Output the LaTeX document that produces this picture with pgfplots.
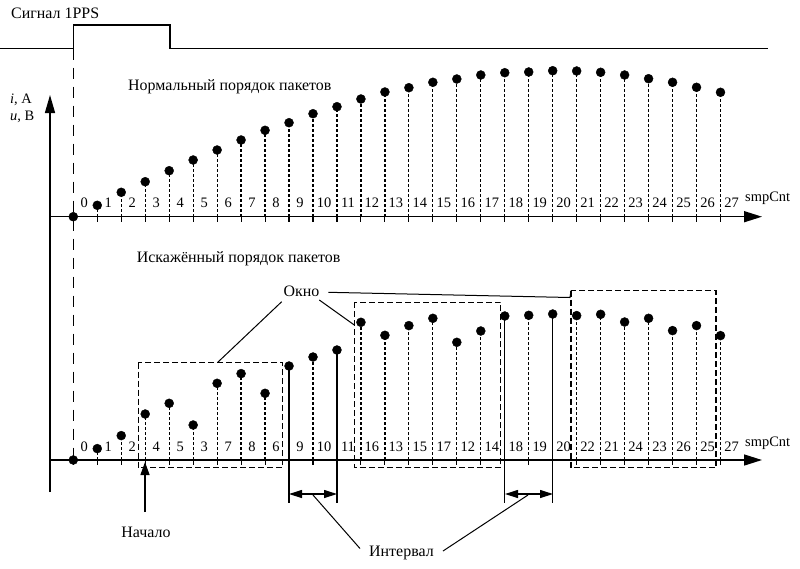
\documentclass[border=0pt]{standalone}
\usepackage{fontspec}
\setmainfont{Liberation Serif}
\usepackage{pgfplots}
\usepackage{pgfplotstable}
\pgfplotsset{compat=1.18}
\usetikzlibrary{arrows.meta}

\newcommand{\tx}{\fontsize{16}{18}\selectfont}
\newcommand{\nm}{\fontsize{14.5}{16}\selectfont}

% normal order: sample k, height above the axis
\pgfplotstableread{
k h
0 0
1 11.4
2 24.4
3 35
4 46
5 56.7
6 66.7
7 76.7
8 86.4
9 94
10 103
11 110
12 117.7
13 124.7
14 129
15 134.4
16 137.7
17 141.7
18 144
19 144.7
20 146
21 145.7
22 144.4
23 141.7
24 138
25 134.4
26 129.4
27 124.4
}\normalorder

% distorted order: position p, packet s, height
\pgfplotstableread{
p s h
0 0 0
1 1 11.4
2 2 24.4
3 4 46
4 5 56.7
5 3 35
6 7 76.7
7 8 86.4
8 6 66.7
9 9 94
10 10 103
11 11 110
12 16 137.7
13 13 124.7
14 15 134.4
15 17 141.7
16 12 117.7
17 14 129
18 18 144
19 19 144.7
20 20 146
21 22 144.4
22 21 145.7
23 24 138
24 23 141.7
25 26 129.4
26 25 134.4
27 27 124.4
}\shuffled

% interval borders (solid stems going below the axis)
\pgfplotstableread{
p h
9 94
11 110
18 144
20 146
}\borders

\begin{document}
\begin{tikzpicture}
\begin{axis}[
  scale only axis, width=800bp, height=568bp,
  xmin=0, xmax=800, ymin=0, ymax=568, y dir=reverse,
  hide axis, clip=false]

% 1PPS signal
\addplot[black, line width=1.4bp] coordinates {(0,48.7) (73.3,48.7) (73.3,25) (170,25) (170,48.7) (768,48.7)};
\addplot[black, line width=1.4bp, dash pattern=on 11bp off 8bp] coordinates {(73.3,48.7) (73.3,460)};

% axes
\addplot[black, line width=1.5bp, -{Triangle[length=18bp,width=10bp]}] coordinates {(50,492) (50,95)};
\addplot[black, line width=1.5bp, -{Triangle[length=18bp,width=11bp]}] coordinates {(50,216.7) (762,216.7)};
\addplot[black, line width=1.5bp, -{Triangle[length=18bp,width=11bp]}] coordinates {(50,460) (762,460)};

% top: normal order
\addplot[black, line width=1.1bp, quiver={u=0, v=5}] table[x expr=73.3+23.97*\thisrow{k}, y expr=216.7]{\normalorder};
\addplot[black, line width=1.2bp, dash pattern=on 3bp off 2bp, quiver={u=0, v=-\thisrow{h}}] table[x expr=73.3+23.97*\thisrow{k}, y expr=216.7]{\normalorder};
\addplot[black, only marks, mark=*, mark size=4.5bp] table[x expr=73.3+23.97*\thisrow{k}, y expr=216.7-\thisrow{h}]{\normalorder};
\addplot[only marks, mark=none, point meta=explicit symbolic, nodes near coords,
  nodes near coords style={anchor=base, font=\nm, text=black}]
  table[x expr=84.3+23.97*\thisrow{k}, y expr=207.5, meta=k]{\normalorder};

% bottom: distorted order
\addplot[black, line width=1.1bp, quiver={u=0, v=5}] table[x expr=73.3+23.97*\thisrow{p}, y expr=460]{\shuffled};
\addplot[black, line width=1.2bp, dash pattern=on 3bp off 2bp, quiver={u=0, v=-\thisrow{h}}] table[x expr=73.3+23.97*\thisrow{p}, y expr=460]{\shuffled};
\addplot[black, line width=1.2bp, quiver={u=0, v=-\thisrow{h}-42.5}] table[x expr=73.3+23.97*\thisrow{p}, y expr=502.5]{\borders};
\addplot[black, only marks, mark=*, mark size=4.5bp] table[x expr=73.3+23.97*\thisrow{p}, y expr=460-\thisrow{h}]{\shuffled};
\addplot[only marks, mark=none, point meta=explicit symbolic, nodes near coords,
  nodes near coords style={anchor=base, font=\nm, text=black}]
  table[x expr=84.3+23.97*\thisrow{p}, y expr=451, meta=s]{\shuffled};

% windows
\draw[black, line width=1.3bp, dash pattern=on 6bp off 3bp] (138.3,362.7) rectangle (282.7,467.7);
\draw[black, line width=1.3bp, dash pattern=on 6bp off 3bp] (354.3,302.3) rectangle (500.5,467.7);
\draw[black, line width=1.3bp, dash pattern=on 6bp off 3bp] (571,290.7) rectangle (716,467.7);

% Окно leaders
\draw[black, line width=1bp] (281.7,301.7) -- (217.3,362.7);
\draw[black, line width=1bp] (319.3,300) -- (354.3,325);
\draw[black, line width=1bp] (328.3,292.3) -- (570,297.5) -- (571,290.7);

% intervals
\draw[black, line width=1.2bp, {Triangle[length=13bp,width=8bp]}-{Triangle[length=13bp,width=8bp]}] (289,494) -- (337,494);
\draw[black, line width=1.2bp, {Triangle[length=13bp,width=8bp]}-{Triangle[length=13bp,width=8bp]}] (505,494) -- (553,494);
\draw[black, line width=1bp] (360,548.5) -- (313,495);
\draw[black, line width=1bp] (443,551) -- (528,495);

% start arrow
\draw[black, line width=1.3bp, -{Triangle[length=13bp,width=9bp]}] (145,512) -- (145,462);

% texts
\node[anchor=base west, inner sep=0pt, font=\tx] at (11,18.5) {Сигнал 1PPS};
\node[anchor=base west, inner sep=0pt, font=\tx] at (128,90) {Нормальный порядок пакетов};
\node[anchor=base west, inner sep=0pt, font=\tx] at (136.7,262.7) {Искажённый порядок пакетов};
\node[anchor=base west, inner sep=0pt, font=\nm] at (10,103) {\textit{i}, А};
\node[anchor=base west, inner sep=0pt, font=\nm] at (10,120.5) {\textit{u}, В};
\node[anchor=base west, inner sep=0pt, font=\nm] at (745,201.7) {smpCnt};
\node[anchor=base west, inner sep=0pt, font=\nm] at (745,446) {smpCnt};
\node[anchor=base west, inner sep=0pt, font=\tx] at (283.3,296) {Окно};
\node[anchor=base, inner sep=0pt, font=\tx] at (146,537.3) {Начало};
\node[anchor=base west, inner sep=0pt, font=\tx] at (369,556) {Интервал};
\end{axis}
\pgfresetboundingbox
\useasboundingbox (current axis.south west) rectangle (current axis.north east);
\end{tikzpicture}
\end{document}
